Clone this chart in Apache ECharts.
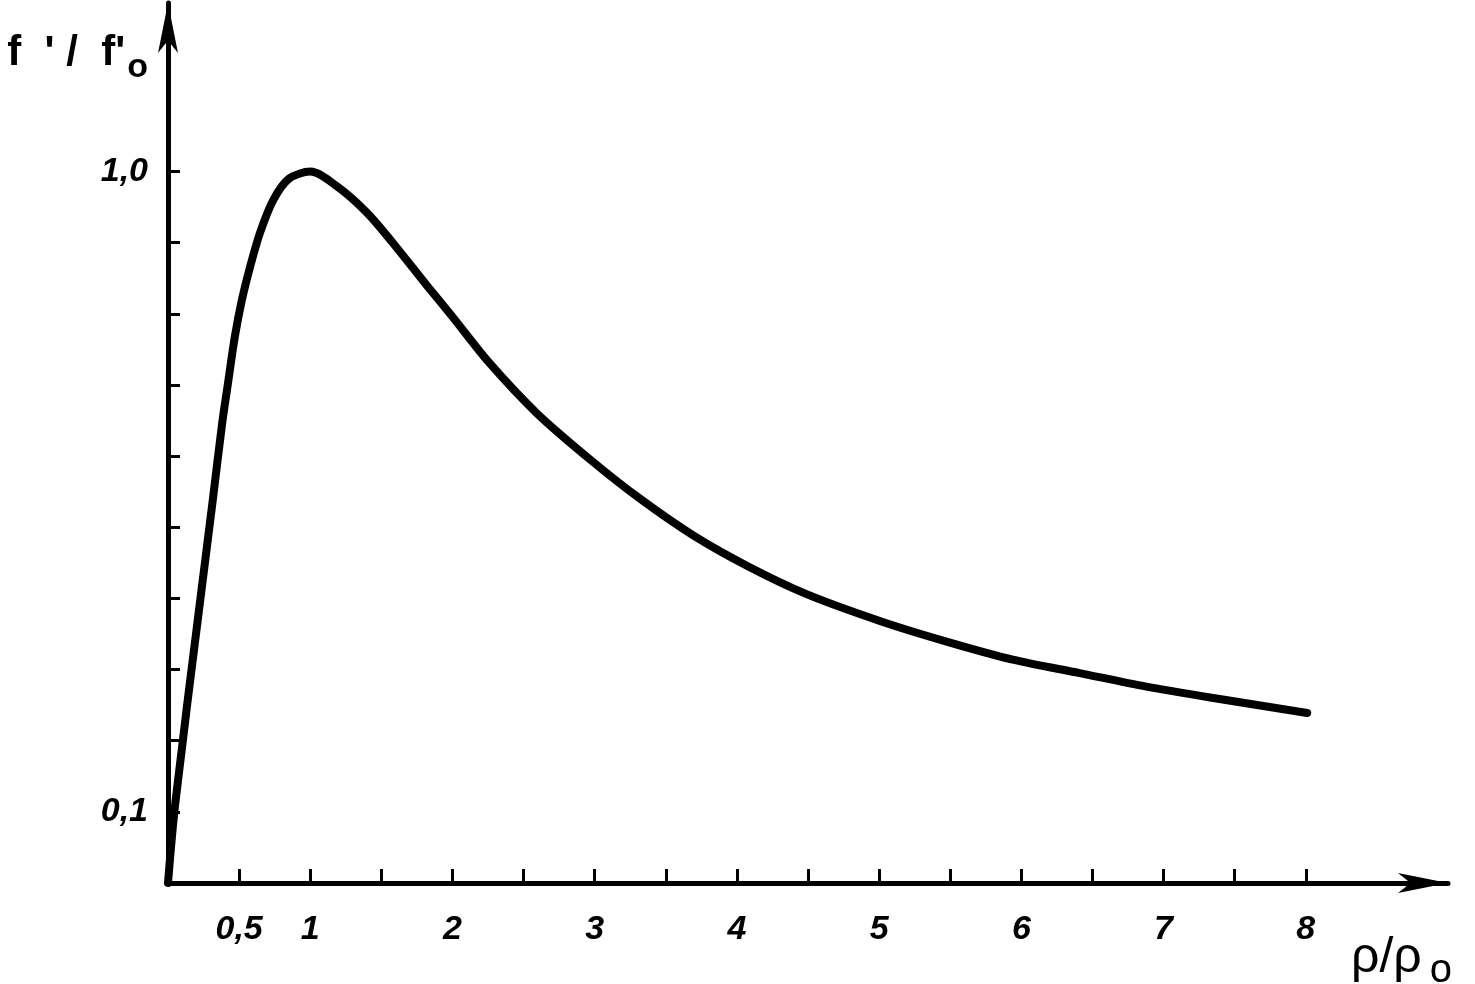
<!DOCTYPE html>
<html>
<head>
<meta charset="utf-8">
<title>f'/f'0 vs rho/rho0</title>
<script src="https://cdn.jsdelivr.net/npm/echarts@6/dist/echarts.min.js"></script>
<style>
  html, body { margin: 0; padding: 0; background: #fff; }
  #chart { width: 1475px; height: 984px; }
</style>
</head>
<body>
<div id="chart"></div>
<script>
// rho / rho0
const rho = [0, 0.05, 0.225, 0.316, 0.38, 0.42, 0.47, 0.52, 0.577, 0.647, 0.74, 0.85, 1.0,
  1.19, 1.40, 1.58, 1.82, 2.0, 2.26, 2.59, 2.97, 3.32, 3.69, 4.07, 4.49, 5.01, 5.48, 5.94, 6.41, 6.88, 7.35, 8.01]
// f' / f'0
const ratio = [0, 0.11, 0.395, 0.54, 0.645, 0.70, 0.768, 0.82, 0.866, 0.914, 0.96, 0.99, 1.0,
  0.979, 0.942, 0.90, 0.84, 0.796, 0.731, 0.661, 0.595, 0.54, 0.489, 0.446, 0.406, 0.368, 0.339, 0.314, 0.295, 0.276, 0.26, 0.239]
const xTicks = [0.5, 1, 1.5, 2, 2.5, 3, 3.5, 4, 4.5, 5, 5.5, 6, 6.5, 7, 7.5, 8]
const xLabels = [0.5, 1, 2, 3, 4, 5, 6, 7, 8]
const yTicks = [0.1, 0.2, 0.3, 0.4, 0.5, 0.6, 0.7, 0.8, 0.9, 1.0]
const yLabels = [0.1, 1.0]

const font = '"Liberation Sans", "DejaVu Sans", sans-serif'
const comma = v => String(v).replace('.', ',')

let myChart = echarts.init(document.getElementById('chart'))
myChart.setOption({
  animation: false,
  backgroundColor: '#fff',
  grid: {
    left: 168,
    right: 27,
    top: 3,
    bottom: 101,
    containLabel: false,
    outerBoundsMode: 'none',
  },
  xAxis: {
    type: 'value',
    min: 0,
    max: 9,
    name: '{a|ρ/ρ}{s|o}',
    nameLocation: 'end',
    nameGap: -97,
    nameTextStyle: {
      align: 'left',
      verticalAlign: 'top',
      padding: [42, 0, 0, 0],
      rich: {
        a: { fontFamily: font, fontSize: 50, color: '#000' },
        s: { fontFamily: font, fontSize: 40, color: '#000', padding: [26, 0, 0, 8] },
      },
    },
    splitLine: { show: false },
    axisLine: {
      lineStyle: { color: '#000', width: 5 },
      symbol: ['none', 'arrow'],
      symbolSize: [15, 50],
    },
    axisTick: {
      inside: true,
      length: 14,
      customValues: xTicks,
      lineStyle: { color: '#000', width: 3 },
    },
    axisLabel: {
      customValues: xLabels,
      margin: 30,
      formatter: v => (v === 0.5 ? '0,5' : comma(v)),
      fontFamily: font,
      fontStyle: 'italic',
      fontWeight: 'bold',
      fontSize: 34,
      color: '#000',
    },
  },
  yAxis: {
    type: 'value',
    min: 0,
    max: 1.237,
    name: "{a|f  ' /  f'}{s|o}",
    nameLocation: 'end',
    nameGap: -50,
    nameTextStyle: {
      align: 'right',
      verticalAlign: 'middle',
      padding: [0, 20, 0, 0],
      rich: {
        a: { fontFamily: font, fontSize: 42, fontWeight: 'bold', color: '#000' },
        s: { fontFamily: font, fontSize: 34, fontWeight: 'bold', color: '#000', padding: [30, 0, 0, 2] },
      },
    },
    splitLine: { show: false },
    axisLine: {
      lineStyle: { color: '#000', width: 5 },
      symbol: ['none', 'arrow'],
      symbolSize: [15, 50],
    },
    axisTick: {
      inside: true,
      length: 12,
      customValues: yTicks,
      lineStyle: { color: '#000', width: 3 },
    },
    axisLabel: {
      customValues: yLabels,
      margin: 20,
      formatter: v => comma(v.toFixed(1)),
      fontFamily: font,
      fontStyle: 'italic',
      fontWeight: 'bold',
      fontSize: 34,
      color: '#000',
    },
  },
  series: [
    {
      type: 'line',
      data: rho.map((r, i) => [r, ratio[i]]),
      smooth: 0.3,
      showSymbol: false,
      lineStyle: { color: '#000', width: 8, cap: 'round', join: 'round' },
    },
  ],
})
</script>
</body>
</html>
